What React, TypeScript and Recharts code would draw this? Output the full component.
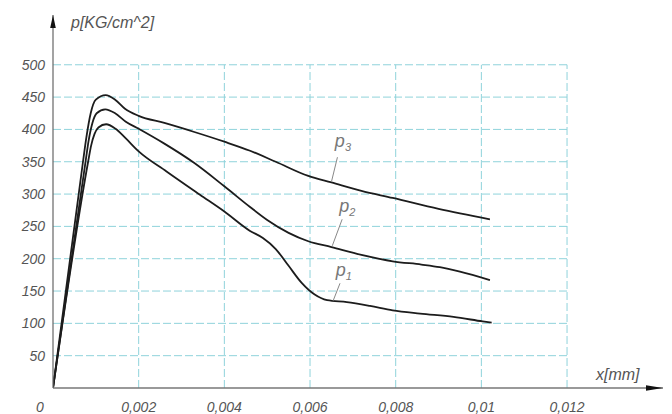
import React from "react";
import {
  LineChart, Line, XAxis, YAxis, ReferenceLine, ReferenceDot,
} from "recharts";

// ── Data (x in mm, p in KG/cm^2) ──────────────────────────────────────────────

const xTicks = [0, 0.002, 0.004, 0.006, 0.008, 0.01, 0.012];
const yTicks = [50, 100, 150, 200, 250, 300, 350, 400, 450, 500];
const gridX = [0.002, 0.004, 0.006, 0.008, 0.01, 0.012];
const gridY = [50, 100, 150, 200, 250, 300, 350, 400, 450, 500];

const p3X = [0, 0.0007, 0.00078, 0.00088, 0.001, 0.00123, 0.00145, 0.00168, 0.002, 0.0026, 0.0033, 0.004, 0.0046, 0.0052, 0.00596, 0.0065, 0.0072, 0.00793, 0.009, 0.0102];
const p3Y = [0, 350, 388, 425, 446, 453, 446, 432, 421, 410, 396, 381, 367, 350, 328, 318, 305, 294, 277, 261];

const p2X = [0, 0.00076, 0.00083, 0.00092, 0.00102, 0.00122, 0.00145, 0.0017, 0.002, 0.0026, 0.0033, 0.004, 0.0046, 0.005, 0.0055, 0.00596, 0.0065, 0.0072, 0.00793, 0.0086, 0.00903, 0.0095, 0.0102];
const p2Y = [0, 350, 382, 410, 425, 431, 425, 412, 401, 378, 348, 312, 280, 260, 240, 227, 218, 206, 196, 191, 187, 180, 167];

const p1X = [0, 0.00082, 0.00089, 0.00097, 0.00106, 0.00124, 0.00146, 0.0017, 0.002, 0.00265, 0.00343, 0.004, 0.0046, 0.0049, 0.0052, 0.0055, 0.0058, 0.0061, 0.0064, 0.00686, 0.0074, 0.00793, 0.00857, 0.00935, 0.01003, 0.01024];
const p1Y = [0, 350, 375, 393, 403, 408, 401, 386, 366, 335, 299, 273, 243, 232, 215, 189, 163, 145, 136, 133, 127, 120, 115, 110, 103, 101];

// curve annotations: subscript, text anchor, leader line top / bottom
const annoSub = ["3", "2", "1"];
const annoX = [0.00658, 0.00668, 0.0066];
const annoY = [373, 272, 173];
const leaderX1 = [0.00664, 0.00675, 0.0067];
const leaderY1 = [357, 261, 162];
const leaderX2 = [0.0065, 0.00652, 0.00654];
const leaderY2 = [319, 220, 135];

const X_MAX = 0.01424;
const Y_MAX = 577;

// ── Helpers ───────────────────────────────────────────────────────────────────

const FONT = "'Liberation Sans', Arial, sans-serif";
const TEXT = "#555";
const GRID = "#8fd3db";

const zip = (xs: number[], ys: number[]) => xs.map((x, i) => ({ x, p: ys[i] }));

function fmtX(v: number): string {
  return v === 0 ? "0" : String(v).replace(".", ",");
}

function XTick({ x, y, payload }: any) {
  const v = payload.value as number;
  return (
    <text x={v === 0 ? x - 13 : x} y={y + 24} textAnchor="middle"
      fontFamily={FONT} fontStyle="italic" fontSize={14} fill={TEXT}>
      {fmtX(v)}
    </text>
  );
}

function YTick({ x, y, payload }: any) {
  return (
    <text x={x - 8} y={y + 5} textAnchor="end"
      fontFamily={FONT} fontStyle="italic" fontSize={14} fill={TEXT}>
      {payload.value}
    </text>
  );
}

// ── Chart ─────────────────────────────────────────────────────────────────────

export default function App() {
  const series = [zip(p1X, p1Y), zip(p2X, p2Y), zip(p3X, p3Y)];
  return (
    <div style={{ position: "absolute", left: 0, top: 0, width: 672, height: 414, background: "#fff" }}>
      <LineChart width={672} height={414} margin={{ top: 15, right: 9, bottom: 0, left: 0 }}>
        <XAxis
          type="number" dataKey="x" domain={[0, X_MAX]} ticks={xTicks}
          height={26} tickSize={0} tickMargin={0} tickLine={false}
          axisLine={{ stroke: "#777", strokeWidth: 1.4 }}
          tick={<XTick />} allowDataOverflow interval={0}
        />
        <YAxis
          type="number" dataKey="p" domain={[0, Y_MAX]} ticks={yTicks}
          width={53} tickSize={0} tickMargin={0} tickLine={false}
          axisLine={{ stroke: "#666", strokeWidth: 1.2 }}
          tick={<YTick />} allowDataOverflow interval={0}
        />

        {gridY.map(v => (
          <ReferenceLine key={`gy${v}`} segment={[{ x: 0, y: v }, { x: 0.012, y: v }]}
            stroke={GRID} strokeDasharray="8 3" strokeWidth={1} />
        ))}
        {gridX.map(v => (
          <ReferenceLine key={`gx${v}`} segment={[{ x: v, y: 0 }, { x: v, y: 500 }]}
            stroke={GRID} strokeDasharray="8 3" strokeWidth={1} />
        ))}

        {series.map((d, i) => (
          <Line key={i} data={d} dataKey="p" type="monotone" stroke="#1c1c1c"
            strokeWidth={1.8} dot={false} activeDot={false} isAnimationActive={false} />
        ))}

        {annoSub.map((s, i) => (
          <ReferenceLine key={`ld${s}`}
            segment={[{ x: leaderX1[i], y: leaderY1[i] }, { x: leaderX2[i], y: leaderY2[i] }]}
            stroke="#888" strokeWidth={1} />
        ))}
        {annoSub.map((s, i) => (
          <ReferenceDot key={`lb${s}`} x={annoX[i]} y={annoY[i]} r={0}
            shape={(props: any) => (
              <text x={props.cx} y={props.cy} fontFamily={FONT} fontStyle="italic" fill="#777">
                <tspan fontSize={18}>p</tspan>
                <tspan fontSize={11} dy={4}>{s}</tspan>
              </text>
            )}
          />
        ))}

        {/* axis arrows and titles */}
        <ReferenceDot x={0} y={Y_MAX} r={0}
          shape={(props: any) => (
            <g>
              <path d={`M${props.cx},${props.cy} L${props.cx - 2.8},${props.cy + 13} L${props.cx + 2.8},${props.cy + 13} Z`} fill="#111" />
              <text x={props.cx + 18} y={props.cy + 13} fontFamily={FONT} fontStyle="italic" fontSize={16} fill={TEXT}>
                p[KG/cm^2]
              </text>
            </g>
          )}
        />
        <ReferenceDot x={X_MAX} y={0} r={0}
          shape={(props: any) => (
            <g>
              <path d={`M${props.cx},${props.cy} L${props.cx - 17},${props.cy - 2.8} L${props.cx - 17},${props.cy + 2.8} Z`} fill="#111" />
              <text x={props.cx - 67} y={props.cy - 8} fontFamily={FONT} fontStyle="italic" fontSize={16} fill={TEXT}>
                x[mm]
              </text>
            </g>
          )}
        />
      </LineChart>
    </div>
  );
}
